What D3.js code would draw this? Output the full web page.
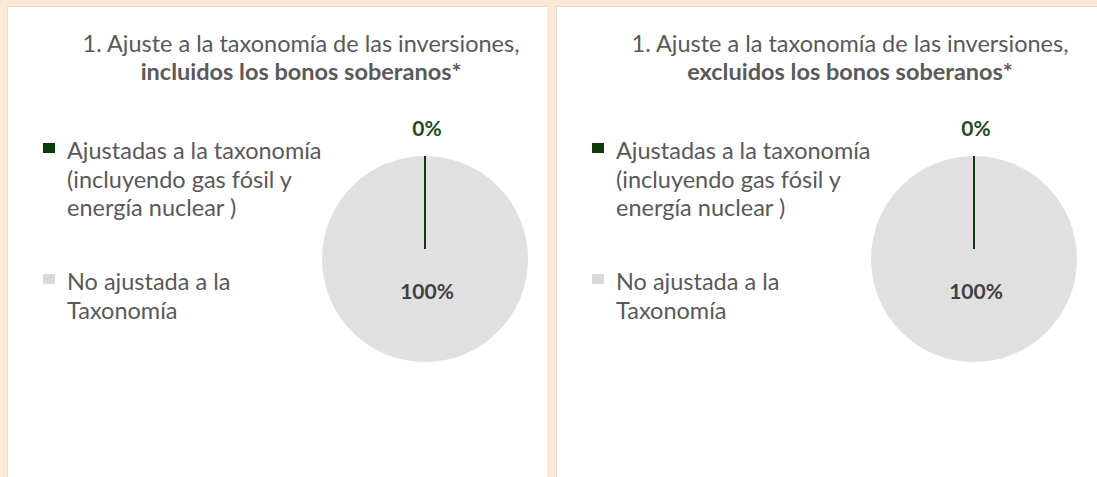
<!DOCTYPE html>
<html>
<head>
  <meta charset="utf-8">
  <title>Ajuste a la taxonomía</title>
  <script src="https://d3js.org/d3.v7.min.js"></script>
  <style>
    body { margin: 0; background: #fbe9d7; }
    text { font-family: Lato, sans-serif; }
  </style>
</head>
<body>
  <div id="chart"></div>

  <script>
    const categories = ["Ajustadas a la taxonomía (incluyendo gas fósil y energía nuclear )", "No ajustada a la Taxonomía"];
    const legendLines = [
      ["Ajustadas a la taxonomía", "(incluyendo gas fósil y", "energía nuclear )"],
      ["No ajustada a la", "Taxonomía"]
    ];
    const titlesLine1 = ["1. Ajuste a la taxonomía de las inversiones,", "1. Ajuste a la taxonomía de las inversiones,"];
    const titlesLine2 = ["incluidos los bonos soberanos*", "excluidos los bonos soberanos*"];
    const valuesIncl = [0, 100];
    const valuesExcl = [0, 100];
    const colors = ["#0b3d0b", "#e0e0e0"];
    const legendColors = ["#0b3d0b", "#d9d9d9"];
    const labelColors = ["#1e4d1e", "#404040"];

    const W = 1097, H = 477;
    const svg = d3.select("#chart").append("svg")
      .attr("width", W).attr("height", H);

    svg.append("rect").attr("width", W).attr("height", H).attr("fill", "#fbe9d7");

    const panels = [
      { x: 8, w: 539, values: valuesIncl },
      { x: 557, w: 545, values: valuesExcl }
    ];

    const pie = d3.pie().sort(null).value(d => d);
    const r = 103;
    const arc = d3.arc().innerRadius(0).outerRadius(r);

    panels.forEach((p, k) => {
      // panel with thin shadow edge
      svg.append("rect").attr("x", p.x - 1).attr("y", 6).attr("width", p.w + 1).attr("height", H)
        .attr("fill", "#dedede");
      const g = svg.append("g").attr("transform", `translate(${p.x},7)`);
      g.append("rect").attr("width", p.w).attr("height", H).attr("fill", "#fff");

      // title
      const tx = 293;
      const title = g.append("text")
        .attr("text-anchor", "middle")
        .style("font-size", "23.5px")
        .attr("fill", "#595959");
      title.append("tspan").attr("x", tx).attr("y", 45).text(titlesLine1[k]);
      title.append("tspan").attr("x", tx).attr("y", 73).style("font-weight", "bold").text(titlesLine2[k]);

      // legend
      const leg = g.selectAll(".leg").data(categories).enter().append("g")
        .attr("class", "leg")
        .attr("transform", (d, i) => `translate(35,${i === 0 ? 136 : 267})`);
      leg.append("rect").attr("x", 0).attr("y", 0).attr("width", 12).attr("height", 10)
        .attr("fill", (d, i) => legendColors[i]);
      leg.append("text")
        .attr("fill", "#595959")
        .style("font-size", "23.5px")
        .each(function (d, i) {
          d3.select(this).selectAll("tspan").data(legendLines[i]).enter().append("tspan")
            .attr("x", 24).attr("y", (t, j) => 16 + j * 28.5).text(t => t);
        });

      // pie
      const cx = 417, cy = 252;
      const pg = g.append("g").attr("transform", `translate(${cx},${cy})`);
      const arcs = pie(p.values);
      pg.selectAll("path").data(arcs).enter().append("path")
        .attr("d", arc)
        .attr("fill", (d, i) => colors[i]);

      // zero-width slices drawn as a radial line
      pg.selectAll(".zero").data(arcs.filter(d => d.value === 0)).enter().append("line")
        .attr("class", "zero")
        .attr("x1", d => Math.sin(d.startAngle) * 10)
        .attr("y1", d => -Math.cos(d.startAngle) * 10)
        .attr("x2", d => Math.sin(d.startAngle) * r)
        .attr("y2", d => -Math.cos(d.startAngle) * r)
        .attr("stroke", colors[0])
        .attr("stroke-width", 2);

      pg.selectAll(".lbl").data(arcs).enter().append("text")
        .attr("class", "lbl")
        .attr("transform", d => {
          const a = (d.startAngle + d.endAngle) / 2;
          const rr = d.value === 0 ? r + 27 : 33;
          return `translate(${Math.sin(a) * rr + 2},${-Math.cos(a) * rr})`;
        })
        .attr("text-anchor", "middle")
        .attr("dy", "0.35em")
        .style("font-size", "21px")
        .style("font-weight", "bold")
        .attr("fill", (d, i) => labelColors[i])
        .text(d => d3.format(".0%")(d.value / 100));
    });
  </script>
</body>
</html>
